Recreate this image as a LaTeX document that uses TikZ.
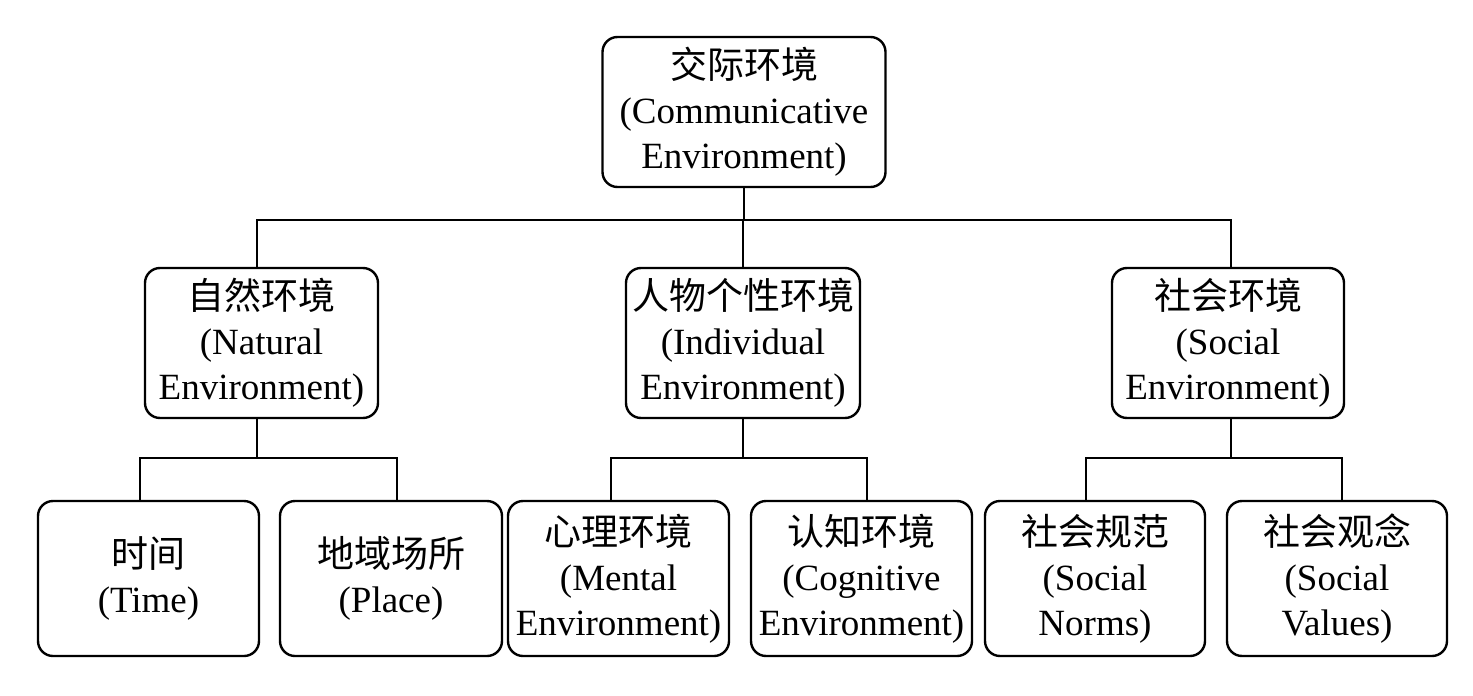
\documentclass[tikz,border=0pt]{standalone}
\usepackage{fontspec}
\setmainfont{Liberation Serif}
\newfontfamily\cjk{Noto Sans CJK SC}
\tikzset{
  box/.style={draw, line width=1.2pt, rounded corners=7.5pt, align=center, inner sep=0pt,
    font=\fontsize{18.5}{22.5}\selectfont},
  sz/.style 2 args={minimum width=#1*0.5pt, minimum height=#2*0.5pt},
  conn/.style={line width=1.2pt}
}
\begin{document}
\begin{tikzpicture}[x=0.5pt,y=-0.5pt]
\useasboundingbox (0,0) rectangle (1473,696);
% top
\node[box,sz={283}{150}] (top) at (744,112) {{\cjk 交际环境}\\(Communicative\\Environment)};
% level 2
\node[box,sz={233}{150}] (nat) at (261.5,343) {{\cjk 自然环境}\\(Natural\\Environment)};
\node[box,sz={234}{150}] (ind) at (743,343) {{\cjk 人物个性环境}\\(Individual\\Environment)};
\node[box,sz={232}{150}] (soc) at (1228,343) {{\cjk 社会环境}\\(Social\\Environment)};
% level 3
\node[box,sz={221}{155}] (time) at (148.5,578.5) {{\cjk 时间}\\(Time)};
\node[box,sz={222}{155}] (place) at (391,578.5) {{\cjk 地域场所}\\(Place)};
\node[box,sz={221}{155}] (ment) at (618.5,578.5) {{\cjk 心理环境}\\(Mental\\Environment)};
\node[box,sz={221}{155}] (cog) at (861.5,578.5) {{\cjk 认知环境}\\(Cognitive\\Environment)};
\node[box,sz={220}{155}] (norm) at (1095,578.5) {{\cjk 社会规范}\\(Social\\Norms)};
\node[box,sz={220}{155}] (val) at (1337,578.5) {{\cjk 社会观念}\\(Social\\Values)};
% bus coordinate
\coordinate (bus) at (744,220);
% connectors top -> level 2
\draw[conn] (top.south) -- (top.south |- bus);
\draw[conn] ([xshift=-4.5*0.5pt]nat.north) |- (bus) -| ([xshift=3*0.5pt]soc.north);
\draw[conn] (ind.north) -- (ind.north |- bus);
% level 2 -> level 3
\draw[conn] ([xshift=-4.5*0.5pt]nat.south) -- ++(0,39);
\draw[conn] ([xshift=-8.5*0.5pt]time.north) |- ([xshift=-4.5*0.5pt,yshift=-39*0.5pt]nat.south) -| ([xshift=6*0.5pt]place.north);
\draw[conn] (ind.south) -- ++(0,39);
\draw[conn] ([xshift=-7.5*0.5pt]ment.north) |- ([yshift=-39*0.5pt]ind.south) -| ([xshift=5.5*0.5pt]cog.north);
\draw[conn] ([xshift=3*0.5pt]soc.south) -- ++(0,39);
\draw[conn] ([xshift=-9*0.5pt]norm.north) |- ([xshift=3*0.5pt,yshift=-39*0.5pt]soc.south) -| ([xshift=5*0.5pt]val.north);
\end{tikzpicture}
\end{document}
